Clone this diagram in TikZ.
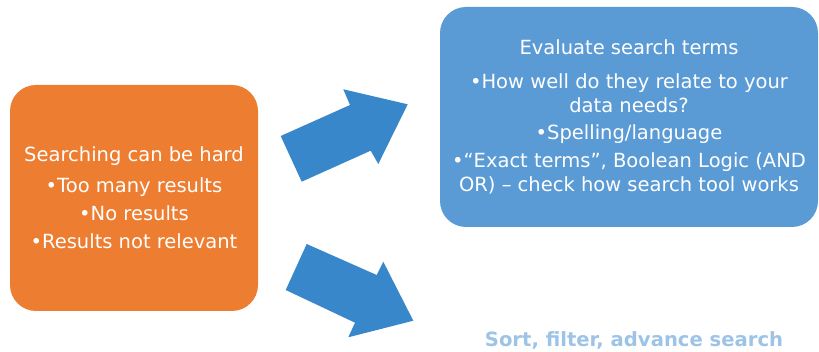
\documentclass[tikz,border=0pt]{standalone}
\usepackage{fontspec}
\setmainfont{DejaVu Sans}
\definecolor{orangebox}{HTML}{ED7D31}
\definecolor{bluebox}{HTML}{5B9BD5}
\definecolor{arrowblue}{HTML}{3887CA}
\definecolor{lightblue}{HTML}{9DC3E6}
\tikzset{
  box/.style={rounded corners=26pt, text=white, align=center, inner sep=0pt,
    font=\fontsize{19.5}{24}\selectfont},
  blockarrow/.style={fill=arrowblue, draw=none},
}
\begin{document}
\begin{tikzpicture}[x=1pt,y=-1pt]
\useasboundingbox (0,0) rectangle (819,352);
\node[box, fill=orangebox, minimum width=248pt, minimum height=226pt] (hard) at (134,198)
  {Searching can be hard\\[7pt]
   •Too many results\\[4pt]
   •No results\\[4pt]
   •Results not relevant};
\node[box, fill=bluebox, minimum width=378pt, minimum height=220pt] (evaluate) at (629,117)
  {Evaluate search terms\\[10pt]
   •How well do they relate to your\\
   data needs?\\[3pt]
   •Spelling/language\\[4pt]
   •“Exact terms”, Boolean Logic (AND\\
   OR) – check how search tool works};
\node[font=\bfseries\fontsize{19.6}{24}\selectfont, text=lightblue, anchor=base] (sort) at (634,346.7)
  {Sort, filter, advance search};
\coordinate (u1) at (280.7,136);
\coordinate (u2) at (350,105);
\coordinate (u3) at (343.3,89.3);
\coordinate (u4) at (407.7,104.3);
\coordinate (u5) at (378.3,164);
\coordinate (u6) at (370.7,150.7);
\coordinate (u7) at (301.7,181.7);
\fill[blockarrow] (u1) -- (u2) -- (u3) -- (u4) -- (u5) -- (u6) -- (u7) -- cycle;
\coordinate (l1) at (306.7,244);
\coordinate (l2) at (376.7,275);
\coordinate (l3) at (383.3,261.7);
\coordinate (l4) at (413.3,320.7);
\coordinate (l5) at (348.3,337.3);
\coordinate (l6) at (355,322.7);
\coordinate (l7) at (285.7,290);
\fill[blockarrow] (l1) -- (l2) -- (l3) -- (l4) -- (l5) -- (l6) -- (l7) -- cycle;
\end{tikzpicture}
\end{document}
